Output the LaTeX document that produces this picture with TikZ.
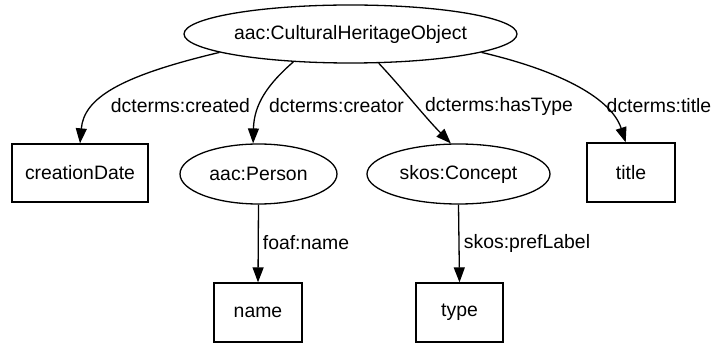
\documentclass[tikz,border=0pt]{standalone}
\usepackage{fontspec}
\setmainfont{Liberation Sans}
\usetikzlibrary{shapes.geometric,arrows.meta}
\tikzset{
  gfont/.style={font=\fontsize{19.4}{23}\selectfont},
  cls/.style={ellipse,draw,line width=1.3pt,inner sep=0pt,gfont},
  lit/.style={rectangle,draw,line width=1.3pt,inner sep=0pt,gfont},
  prop/.style={inner sep=0pt,gfont},
  edge/.style={line width=1.3pt,-{Triangle[length=15pt,width=11pt]}},
}
\begin{document}
\begin{tikzpicture}[x=1pt,y=-1pt]
\useasboundingbox (0,0) rectangle (713,347);
% resources
\node[cls,minimum width=333pt,minimum height=58pt] (cho) at (350.5,34) {aac:CulturalHeritageObject};
\node[cls,minimum width=157pt,minimum height=60pt] (person) at (258.5,174) {aac:Person};
\node[cls,minimum width=183pt,minimum height=60pt] (concept) at (458.5,174) {skos:Concept};
% literals
\node[lit,minimum width=136pt,minimum height=58pt] (cdate) at (80,173) {creationDate};
\node[lit,minimum width=88pt,minimum height=59pt] (title) at (631,172.5) {title};
\node[lit,minimum width=88pt,minimum height=59pt] (name) at (258,312.5) {name};
\node[lit,minimum width=87pt,minimum height=59pt] (type) at (459.5,312.5) {type};
% properties
\draw[edge] (cho.188) .. controls (120,76) and (84,98) .. (cdate.north);
\draw[edge] (cho.206) .. controls (268,84) and (254,104) .. (person.100);
\draw[edge] (cho.314) .. controls (402,88) and (424,116) .. (concept.104);
\draw[edge] (cho.352) .. controls (565,72) and (612,100) .. (title.100);
\draw[edge] (person.south) -- (name.north);
\draw[edge] (concept.south) -- (type.north);
% property labels
\node[prop] (l1) at (180.5,106) {dcterms:created};
\node[prop] (l2) at (336.5,106) {dcterms:creator};
\node[prop] (l3) at (499,106) {dcterms:hasType};
\node[prop] (l4) at (659,106) {dcterms:title};
\node[prop] (l5) at (306,243) {foaf:name};
\node[prop] (l6) at (527,243) {skos:prefLabel};
\end{tikzpicture}
\end{document}
